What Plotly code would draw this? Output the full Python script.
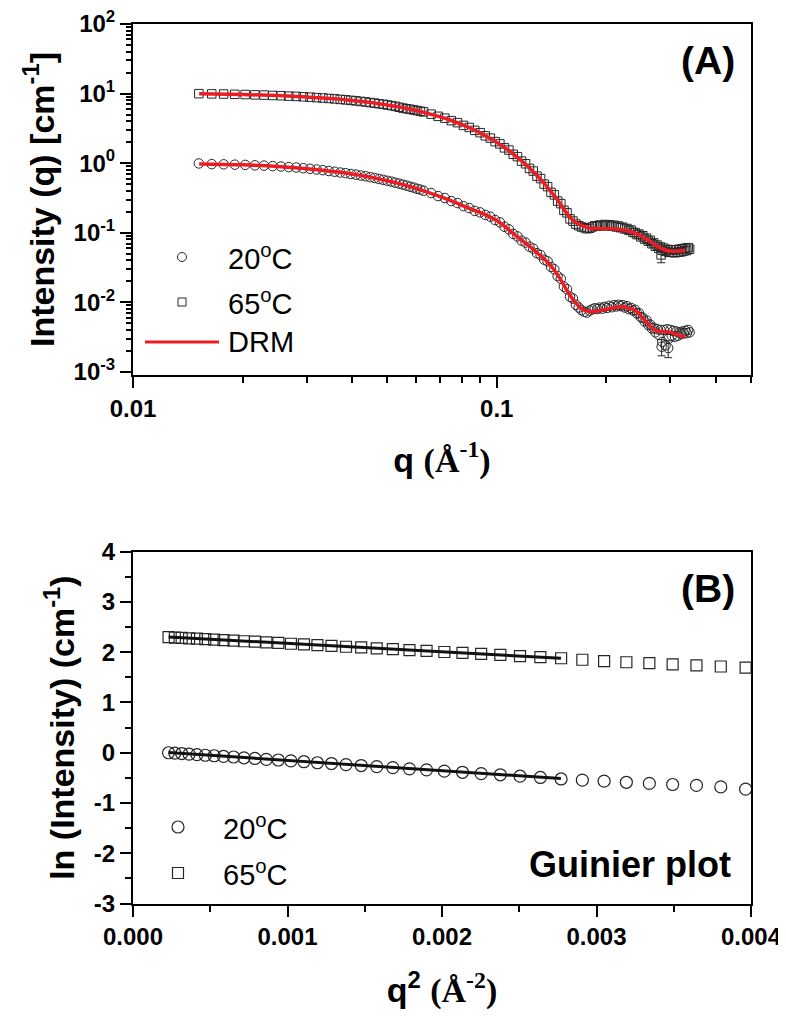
import numpy as np
import plotly.graph_objects as go

# ---------------- data: panel (A)  I(q) ----------------
q_low = [0.01517, 0.01646, 0.01775, 0.01905, 0.02034, 0.02163, 0.02292, 0.02421, 0.02551, 0.02680,
         0.02809, 0.02938, 0.03067, 0.03197, 0.03326, 0.03455, 0.03584, 0.03713, 0.03843, 0.03972,
         0.04101, 0.04230, 0.04359, 0.04489, 0.04618, 0.04747, 0.04876, 0.05005, 0.05135, 0.05264,
         0.05393, 0.05522, 0.05651, 0.05781, 0.05910, 0.06039, 0.06168, 0.06297]

I20_low = [0.990, 0.968, 0.961, 0.951, 0.944, 0.931, 0.922, 0.907, 0.895, 0.878,
           0.865, 0.846, 0.830, 0.810, 0.793, 0.771, 0.753, 0.733, 0.718, 0.698,
           0.684, 0.664, 0.648, 0.628, 0.612, 0.592, 0.576, 0.557, 0.542, 0.523,
           0.508, 0.490, 0.476, 0.458, 0.445, 0.428, 0.416, 0.401]

I65_low = [9.97, 9.90, 9.84, 9.75, 9.69, 9.58, 9.51, 9.39, 9.32, 9.19,
           9.11, 8.98, 8.88, 8.74, 8.64, 8.50, 8.39, 8.24, 8.13, 7.98,
           7.85, 7.71, 7.58, 7.42, 7.29, 7.14, 7.01, 6.85, 6.71, 6.55,
           6.36, 6.18, 6.05, 5.94, 5.81, 5.70, 5.56, 5.45]

q_high = [0.066, 0.069, 0.072, 0.075, 0.078, 0.081, 0.084, 0.087, 0.090, 0.093,
          0.096, 0.099, 0.102, 0.105, 0.108, 0.111, 0.114, 0.117, 0.120, 0.123,
          0.126, 0.129, 0.132, 0.135, 0.138, 0.141, 0.144, 0.147, 0.150, 0.153,
          0.156, 0.159, 0.162, 0.165, 0.168, 0.171, 0.174, 0.177, 0.180, 0.183,
          0.186, 0.189, 0.192, 0.195, 0.198, 0.201, 0.204, 0.207, 0.210, 0.213,
          0.216, 0.219, 0.222, 0.225, 0.228, 0.231, 0.234, 0.237, 0.240, 0.243,
          0.246, 0.249, 0.252, 0.255, 0.258, 0.261, 0.264, 0.267, 0.270, 0.273,
          0.276, 0.279, 0.282, 0.285, 0.288, 0.291, 0.294, 0.297, 0.300, 0.303,
          0.306, 0.309, 0.312, 0.315, 0.318, 0.321, 0.324, 0.327, 0.330, 0.333,
          0.336, 0.339]

I20_high = [0.372, 0.336, 0.315, 0.285, 0.267, 0.241, 0.226, 0.206, 0.196, 0.180,
            0.170, 0.152, 0.141, 0.122, 0.112, 0.0960, 0.0885, 0.0770, 0.0722, 0.0630,
            0.0592, 0.0508, 0.0478, 0.0410, 0.0388, 0.0322, 0.0298, 0.0238, 0.0218, 0.0168,
            0.0154, 0.0120, 0.0113, 0.0092, 0.0084, 0.0077, 0.0073, 0.0071, 0.0076, 0.0079,
            0.0082, 0.0080, 0.0084, 0.0081, 0.0086, 0.0083, 0.0089, 0.0085, 0.0091, 0.0087,
            0.0092, 0.0088, 0.0091, 0.0084, 0.0088, 0.0080, 0.0083, 0.0076, 0.0078, 0.0069,
            0.0070, 0.0061, 0.0060, 0.0053, 0.0055, 0.0047, 0.0048, 0.0042, 0.0043, 0.0037,
            0.0041, 0.0034, 0.0040, 0.0027, 0.0040, 0.0024, 0.0041, 0.0030, 0.0040, 0.0033,
            0.0039, 0.0032, 0.0038, 0.0033, 0.0037, 0.0035, 0.0038, 0.0036, 0.0039, 0.0036,
            0.0040, 0.0037]

I65_high = [5.06, 4.71, 4.43, 4.08, 3.82, 3.49, 3.26, 2.96, 2.74, 2.47,
            2.29, 2.04, 1.89, 1.66, 1.54, 1.34, 1.24, 1.07, 0.98, 0.84,
            0.77, 0.65, 0.60, 0.50, 0.46, 0.38, 0.35, 0.285, 0.262, 0.210,
            0.193, 0.158, 0.147, 0.133, 0.126, 0.121, 0.118, 0.114, 0.116, 0.121,
            0.126, 0.124, 0.129, 0.125, 0.131, 0.127, 0.130, 0.124, 0.128, 0.121,
            0.125, 0.118, 0.120, 0.113, 0.115, 0.108, 0.109, 0.101, 0.1005, 0.094,
            0.0955, 0.087, 0.0905, 0.081, 0.0835, 0.0755, 0.078, 0.0695, 0.0715, 0.0640,
            0.0665, 0.0595, 0.0625, 0.0560, 0.0600, 0.0540, 0.0575, 0.0525, 0.0570, 0.0520,
            0.0565, 0.0515, 0.0570, 0.0525, 0.0580, 0.0530, 0.0590, 0.0545, 0.0600, 0.0555,
            0.0610, 0.0580]

# points drawn with visible error bars
eb20_q = [0.284, 0.296]
eb20_I = [0.0023, 0.0022]
eb20_err = [0.0006, 0.0006]
eb65_q = [0.283]
eb65_I = [0.048]
eb65_err = [0.011]

# DRM model curves
drm_q = [0.0152, 0.02, 0.025, 0.03, 0.035, 0.04, 0.045, 0.05, 0.055, 0.06,
         0.065, 0.07, 0.075, 0.08, 0.085, 0.09, 0.095, 0.10, 0.105, 0.11,
         0.115, 0.12, 0.125, 0.13, 0.135, 0.14, 0.145, 0.15, 0.155, 0.16,
         0.165, 0.17, 0.175, 0.18, 0.19, 0.20, 0.21, 0.22, 0.23, 0.24,
         0.25, 0.26, 0.27, 0.28, 0.29, 0.30, 0.31, 0.32, 0.33]
drm65 = [9.97, 9.70, 9.35, 8.93, 8.47, 7.96, 7.42, 6.86, 6.29, 5.72,
         5.16, 4.62, 4.10, 3.60, 3.15, 2.72, 2.34, 1.99, 1.68, 1.41,
         1.17, 0.963, 0.787, 0.638, 0.512, 0.408, 0.323, 0.253, 0.196, 0.160,
         0.140, 0.130, 0.122, 0.117, 0.1145, 0.114, 0.113, 0.1105, 0.106, 0.0985,
         0.089, 0.079, 0.069, 0.0612, 0.0565, 0.0545, 0.054, 0.0548, 0.056]
drm20 = [0.975, 0.945, 0.895, 0.832, 0.765, 0.700, 0.628, 0.560, 0.495, 0.433,
         0.378, 0.330, 0.288, 0.250, 0.218, 0.195, 0.172, 0.150, 0.124, 0.101,
         0.084, 0.071, 0.060, 0.050, 0.042, 0.0348, 0.0275, 0.0210, 0.0157, 0.0120,
         0.0097, 0.0083, 0.0076, 0.0074, 0.0075, 0.0079, 0.0084, 0.0086, 0.0083, 0.0077,
         0.0062, 0.0050, 0.0041, 0.0038, 0.0038, 0.0037, 0.0035, 0.0033, 0.0032]

# ---------------- data: panel (B)  Guinier plot ----------------
ln20 = [0.000, -0.009, -0.016, -0.028, -0.037, -0.050, -0.060, -0.074, -0.085, -0.101,
        -0.114, -0.131, -0.145, -0.163, -0.179, -0.199, -0.215, -0.236, -0.255, -0.277,
        -0.297, -0.321, -0.341, -0.367, -0.389, -0.416, -0.439, -0.467, -0.492, -0.522,
        -0.545, -0.566, -0.588, -0.610, -0.632, -0.650, -0.680, -0.725]
ln65 = [2.300, 2.292, 2.287, 2.277, 2.271, 2.260, 2.252, 2.240, 2.232, 2.218,
        2.209, 2.195, 2.184, 2.168, 2.156, 2.140, 2.127, 2.109, 2.095, 2.077,
        2.061, 2.042, 2.025, 2.004, 1.987, 1.965, 1.947, 1.924, 1.904, 1.880,
        1.850, 1.822, 1.800, 1.781, 1.760, 1.740, 1.716, 1.695]
fit_q2 = [0.00023, 0.00277]
fit20 = [0.005, -0.515]
fit65 = [2.305, 1.878]

# tick labels
x1_tickvals = [0.01, 0.1]
x1_ticktext = ["0.01", "0.1"]
x1_minor = [0.02, 0.03, 0.04, 0.05, 0.06, 0.07, 0.08, 0.09, 0.2, 0.3, 0.4, 0.5]
y1_tickvals = [1e-3, 1e-2, 1e-1, 1e0, 1e1, 1e2]
y1_ticktext = ["10<sup>-3</sup>", "10<sup>-2</sup>", "10<sup>-1</sup>",
               "10<sup>0</sup>", "10<sup>1</sup>", "10<sup>2</sup>"]
y1_minor = [m * d for d in [1e-3, 1e-2, 1e-1, 1e0, 1e1] for m in range(2, 10)]
x2_tickvals = [0.0, 0.001, 0.002, 0.003, 0.004]
x2_ticktext = ["0.000", "0.001", "0.002", "0.003", "0.004"]
y2_tickvals = [-3, -2, -1, 0, 1, 2, 3, 4]
y2_ticktext = ["-3", "-2", "-1", "0", "1", "2", "3", "4"]

# ---------------- figure ----------------
# the page body keeps an 8 px margin, so the figure is drawn 8 px in from the window corner
OFF = 8
W, H = 786 - OFF, 1016 - OFF
SANS = "Liberation Sans, Arial, Helvetica, sans-serif"
MK = "#262626"
RED = "#ec1c24"

def px(x):
    return (x - OFF) / W

def py(y):
    return 1 - (y - OFF) / H

fig = go.Figure()

fig.add_trace(go.Scatter(x=q_low + q_high, y=I20_low + I20_high, mode="markers",
                         marker=dict(symbol="circle-open", size=9.5, color=MK, line=dict(width=1)),
                         xaxis="x", yaxis="y", name="20°C"))
fig.add_trace(go.Scatter(x=q_low + q_high, y=I65_low + I65_high, mode="markers",
                         marker=dict(symbol="square-open", size=8.5, color=MK, line=dict(width=1)),
                         xaxis="x", yaxis="y", name="65°C"))
fig.add_trace(go.Scatter(x=eb20_q, y=eb20_I, mode="markers",
                         marker=dict(symbol="circle-open", size=9.5, color=MK, line=dict(width=1)),
                         error_y=dict(type="data", array=eb20_err, color=MK, thickness=1, width=4),
                         xaxis="x", yaxis="y", name="20°C err"))
fig.add_trace(go.Scatter(x=eb65_q, y=eb65_I, mode="markers",
                         marker=dict(symbol="square-open", size=8.5, color=MK, line=dict(width=1)),
                         error_y=dict(type="data", array=eb65_err, color=MK, thickness=1, width=4),
                         xaxis="x", yaxis="y", name="65°C err"))
fig.add_trace(go.Scatter(x=drm_q, y=drm20, mode="lines", line=dict(color=RED, width=3.5, shape="spline"),
                         xaxis="x", yaxis="y", name="DRM 20"))
fig.add_trace(go.Scatter(x=drm_q, y=drm65, mode="lines", line=dict(color=RED, width=3.5, shape="spline"),
                         xaxis="x", yaxis="y", name="DRM 65"))

q2 = [q * q for q in q_low]
fig.add_trace(go.Scatter(x=q2, y=ln20, mode="markers",
                         marker=dict(symbol="circle-open", size=12, color=MK, line=dict(width=1.2)),
                         xaxis="x2", yaxis="y2", name="20°C"))
fig.add_trace(go.Scatter(x=q2, y=ln65, mode="markers",
                         marker=dict(symbol="square-open", size=11, color=MK, line=dict(width=1.2)),
                         xaxis="x2", yaxis="y2", name="65°C"))
fig.add_trace(go.Scatter(x=fit_q2, y=fit20, mode="lines", line=dict(color="#111", width=3),
                         xaxis="x2", yaxis="y2", name="fit 20"))
fig.add_trace(go.Scatter(x=fit_q2, y=fit65, mode="lines", line=dict(color="#111", width=3),
                         xaxis="x2", yaxis="y2", name="fit 65"))

tickfont = dict(family=SANS, size=24, color="black", weight="bold")
titlefont = dict(family=SANS, size=34, color="black", weight="bold")
axis_common = dict(showgrid=False, zeroline=False, showline=True, linewidth=2, linecolor="black",
                   mirror=True, ticks="outside", ticklen=11, tickwidth=2, tickcolor="black",
                   tickfont=tickfont, automargin=False, ticklabeloverflow="allow")

fig.update_layout(
    width=W, height=H, margin=dict(l=0, r=0, t=0, b=0, autoexpand=False),
    paper_bgcolor="white", plot_bgcolor="white", showlegend=False,
    font=dict(family=SANS, color="black"),
    xaxis=dict(axis_common, domain=[px(133), px(751)], anchor="y", type="log",
               range=[-2, np.log10(0.5)], tickmode="array", tickvals=x1_tickvals, ticktext=x1_ticktext,
               minor=dict(tickmode="array", tickvals=x1_minor, ticks="outside", ticklen=6, tickwidth=2,
                          tickcolor="black", showgrid=False),
               title=dict(text="q <span style='font-family:Liberation Serif'>(Å<sup>-1</sup>)</span>",
                          font=titlefont, standoff=27)),
    yaxis=dict(axis_common, domain=[py(375), py(24)], anchor="x", type="log",
               range=[-3.045, 2], tickmode="array", tickvals=y1_tickvals, ticktext=y1_ticktext,
               minor=dict(tickmode="array", tickvals=y1_minor, ticks="outside", ticklen=5, tickwidth=2,
                          tickcolor="black", showgrid=False),
               title=dict(text="Intensity (q) [cm<sup>-1</sup>]", font=titlefont, standoff=9)),
    xaxis2=dict(axis_common, domain=[px(133), px(751)], anchor="y2", range=[0, 0.004],
                tickmode="array", tickvals=x2_tickvals, ticktext=x2_ticktext,
                minor=dict(tickmode="linear", tick0=0, dtick=0.0005, ticks="outside", ticklen=6, tickwidth=2,
                           tickcolor="black", showgrid=False),
                title=dict(text="q<sup>2</sup> <span style='font-family:Liberation Serif'>(Å<sup>-2</sup>)</span>",
                           font=titlefont, standoff=29)),
    yaxis2=dict(axis_common, domain=[py(903.5), py(551.7)], anchor="x2", range=[-3, 4],
                tickmode="array", tickvals=y2_tickvals, ticktext=y2_ticktext,
                minor=dict(tickmode="linear", tick0=0, dtick=0.5, ticks="outside", ticklen=6, tickwidth=2,
                           tickcolor="black", showgrid=False),
                title=dict(text="ln (Intensity) (cm<sup>-1</sup>)", font=titlefont, standoff=9)),
)

legfont = dict(family=SANS, size=29, color="black")
shapes = []
annotations = []

# legend of panel (A)
shapes.append(dict(type="circle", xref="paper", yref="paper", xsizemode="pixel", ysizemode="pixel",
                   xanchor=px(182), yanchor=py(257), x0=-4.5, x1=4.5, y0=-4.5, y1=4.5,
                   line=dict(color=MK, width=1)))
shapes.append(dict(type="rect", xref="paper", yref="paper", xsizemode="pixel", ysizemode="pixel",
                   xanchor=px(182), yanchor=py(302), x0=-4, x1=4, y0=-4, y1=4,
                   line=dict(color=MK, width=1)))
shapes.append(dict(type="line", xref="paper", yref="paper", x0=px(145), x1=px(219), y0=py(342), y1=py(342),
                   line=dict(color=RED, width=3)))
for txt, yy in [("20<sup>o</sup>C", 257), ("65<sup>o</sup>C", 302), ("DRM", 342)]:
    annotations.append(dict(text=txt, xref="paper", yref="paper", x=px(226), y=py(yy), xanchor="left",
                            yanchor="middle", showarrow=False, font=legfont))

# legend of panel (B)
shapes.append(dict(type="circle", xref="paper", yref="paper", xsizemode="pixel", ysizemode="pixel",
                   xanchor=px(178), yanchor=py(827), x0=-6, x1=6, y0=-6, y1=6,
                   line=dict(color=MK, width=1.2)))
shapes.append(dict(type="rect", xref="paper", yref="paper", xsizemode="pixel", ysizemode="pixel",
                   xanchor=px(178), yanchor=py(873), x0=-5.5, x1=5.5, y0=-5.5, y1=5.5,
                   line=dict(color=MK, width=1.2)))
for txt, yy in [("20<sup>o</sup>C", 827), ("65<sup>o</sup>C", 873)]:
    annotations.append(dict(text=txt, xref="paper", yref="paper", x=px(221), y=py(yy), xanchor="left",
                            yanchor="middle", showarrow=False, font=legfont))

panel_font = dict(family=SANS, size=39, color="black", weight="bold")
annotations.append(dict(text="(A)", xref="paper", yref="paper", x=px(737), y=py(60), xanchor="right",
                        yanchor="middle", showarrow=False, font=panel_font))
annotations.append(dict(text="(B)", xref="paper", yref="paper", x=px(737), y=py(588), xanchor="right",
                        yanchor="middle", showarrow=False, font=panel_font))
annotations.append(dict(text="Guinier plot", xref="paper", yref="paper", x=px(733), y=py(864),
                        xanchor="right", yanchor="middle", showarrow=False,
                        font=dict(family=SANS, size=36, color="black", weight="bold")))

fig.update_layout(shapes=shapes, annotations=annotations)
fig.write_html("out.html")
